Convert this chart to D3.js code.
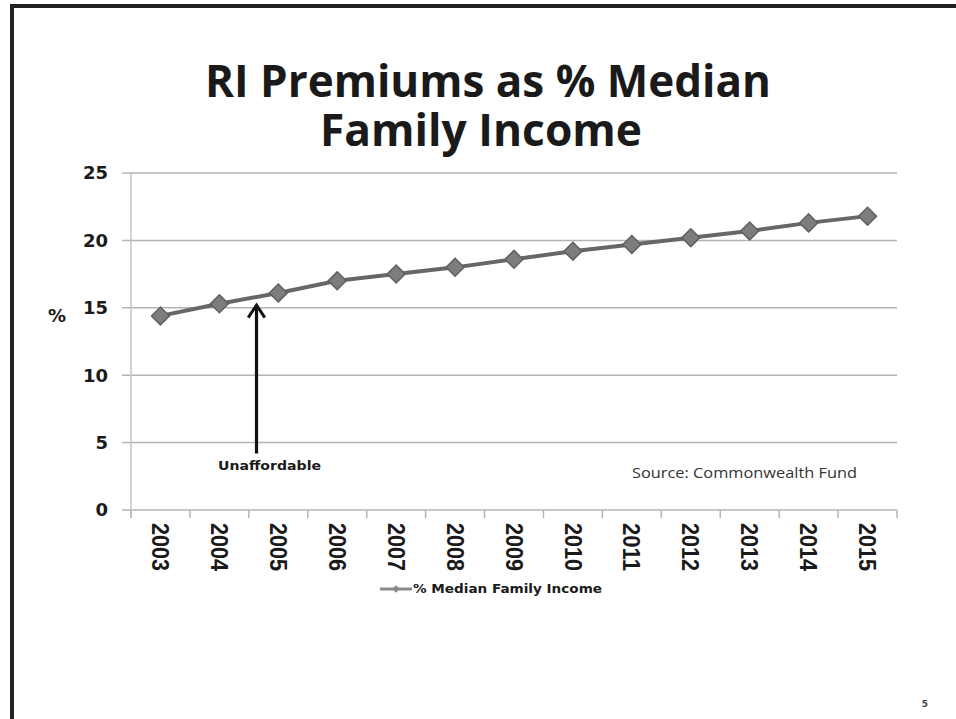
<!DOCTYPE html>
<meta charset="utf-8">
<style>
body { margin: 0; background: #fff; }
svg { display: block; }
.grid line { stroke: #b4b4b4; stroke-width: 1.5px; }
.ylab text { font-family: "DejaVu Sans", sans-serif; font-weight: bold; font-size: 18px; fill: #1a1a1a; }
.xlab text { font-family: "Liberation Sans", sans-serif; font-weight: bold; font-size: 24px; fill: #1a1a1a; }
</style>

<svg width="956" height="719"></svg>

<script src="https://d3js.org/d3.v7.min.js"></script>
<script>

var years = ["2003", "2004", "2005", "2006", "2007", "2008", "2009",
             "2010", "2011", "2012", "2013", "2014", "2015"];
var pctIncome = [14.4, 15.3, 16.1, 17.0, 17.5, 18.0, 18.6,
                 19.2, 19.7, 20.2, 20.7, 21.3, 21.8];
var yTicks = [0, 5, 10, 15, 20, 25];
var titleLines = ["RI Premiums as % Median", "Family Income"];
var seriesName = "% Median Family Income";
// arrow: position in years (between 2004 and 2005), from/to in % units
var arrowNote = { year: 2004.63, from: 4.2, to: 15.2, label: "Unaffordable" };

var svg = d3.select("svg"),
    width = +svg.attr("width"),
    height = +svg.attr("height");

var plotLeft = 131, plotRight = 897, plotTop = 173, plotBottom = 510;

var x = d3.scaleBand().domain(years).range([plotLeft, plotRight]).padding(0);
var y = d3.scaleLinear().domain([0, 25]).range([plotBottom, plotTop]);
var yearPos = d3.scaleLinear()
    .domain([+years[0], +years[years.length - 1]])
    .range([x(years[0]) + x.bandwidth() / 2, x(years[years.length - 1]) + x.bandwidth() / 2]);

// slide frame
svg.append("rect")
    .attr("x", 12).attr("y", 6)
    .attr("width", width + 20).attr("height", height + 20)
    .attr("fill", "none")
    .attr("stroke", "#222")
    .attr("stroke-width", 4);

// title
svg.append("g").selectAll("text")
  .data(titleLines)
  .enter().append("text")
    .attr("x", function(d, i) { return i == 0 ? 488 : 481; })
    .attr("y", function(d, i) { return 97 + i * 49; })
    .attr("text-anchor", "middle")
    .attr("textLength", function(d, i) { return i == 0 ? 566 : 322; })
    .attr("lengthAdjust", "spacingAndGlyphs")
    .style("font-family", "'Open Sans', sans-serif")
    .style("font-weight", "bold")
    .style("font-size", "44px")
    .style("fill", "#1a1a1a")
    .text(function(d) { return d; });

// horizontal gridlines
svg.append("g")
    .attr("class", "grid")
  .selectAll("line")
  .data(yTicks)
  .enter().append("line")
    .attr("x1", plotLeft - 9)
    .attr("x2", plotRight)
    .attr("y1", function(d) { return y(d); })
    .attr("y2", function(d) { return y(d); });

// y axis line
svg.append("line")
    .attr("x1", plotLeft).attr("x2", plotLeft)
    .attr("y1", plotTop).attr("y2", plotBottom + 8)
    .attr("stroke", "#c4c4c4")
    .attr("stroke-width", 1.5);

// x tick marks at category boundaries
var bounds = years.map(function(d) { return x(d); }).concat([plotRight]);
svg.append("g")
    .attr("class", "grid")
  .selectAll("line")
  .data(bounds)
  .enter().append("line")
    .attr("x1", function(d) { return d; })
    .attr("x2", function(d) { return d; })
    .attr("y1", plotBottom)
    .attr("y2", plotBottom + 8);

// y labels
svg.append("g")
    .attr("class", "ylab")
  .selectAll("text")
  .data(yTicks)
  .enter().append("text")
    .attr("x", 108)
    .attr("y", function(d) { return y(d); })
    .attr("dy", "0.36em")
    .attr("text-anchor", "end")
    .text(function(d) { return d; });

svg.append("text")
    .attr("x", 57)
    .attr("y", y(14.4))
    .attr("dy", "0.36em")
    .attr("text-anchor", "middle")
    .style("font-family", "'DejaVu Sans', sans-serif")
    .style("font-weight", "bold")
    .style("font-size", "18px")
    .style("fill", "#1a1a1a")
    .text("%");

// x labels, rotated
svg.append("g")
    .attr("class", "xlab")
  .selectAll("text")
  .data(years)
  .enter().append("text")
    .attr("transform", function(d) {
      return "translate(" + (x(d) + x.bandwidth() / 2) + "," + (plotBottom + 13) + ") rotate(90)";
    })
    .attr("dy", "0.35em")
    .attr("text-anchor", "start")
    .attr("textLength", 48)
    .attr("lengthAdjust", "spacingAndGlyphs")
    .text(function(d) { return d; });

// series line
var line = d3.line()
    .x(function(d, i) { return x(years[i]) + x.bandwidth() / 2; })
    .y(function(d) { return y(d); });

svg.append("path")
    .datum(pctIncome)
    .attr("d", line)
    .attr("fill", "none")
    .attr("stroke", "#676767")
    .attr("stroke-width", 4);

var diamond = d3.symbol().type(d3.symbolSquare).size(160);

svg.append("g").selectAll("path")
  .data(pctIncome)
  .enter().append("path")
    .attr("d", diamond)
    .attr("transform", function(d, i) {
      return "translate(" + (x(years[i]) + x.bandwidth() / 2) + "," + y(d) + ") rotate(45)";
    })
    .attr("fill", "#7d7d7d")
    .attr("stroke", "#606060")
    .attr("stroke-width", 1.5);

// annotation arrow
var ax = yearPos(arrowNote.year);
svg.append("defs").append("marker")
    .attr("id", "head")
    .attr("viewBox", "0 0 10 10")
    .attr("refX", 7).attr("refY", 5)
    .attr("markerWidth", 6.5).attr("markerHeight", 6.5)
    .attr("orient", "auto")
  .append("path")
    .attr("d", "M1,1 L7,5 L1,9")
    .attr("fill", "none")
    .attr("stroke", "#111")
    .attr("stroke-width", 1.4);

svg.append("line")
    .attr("x1", ax).attr("x2", ax)
    .attr("y1", y(arrowNote.from)).attr("y2", y(arrowNote.to))
    .attr("stroke", "#111")
    .attr("stroke-width", 3.2)
    .attr("marker-end", "url(#head)");

svg.append("text")
    .attr("x", 218)
    .attr("y", y(3.0))
    .attr("textLength", 103)
    .attr("lengthAdjust", "spacingAndGlyphs")
    .style("font-family", "'DejaVu Sans', sans-serif")
    .style("font-weight", "bold")
    .style("font-size", "12px")
    .style("fill", "#1a1a1a")
    .text(arrowNote.label);

// source note
svg.append("text")
    .attr("x", 632)
    .attr("y", y(2.4))
    .attr("textLength", 225)
    .attr("lengthAdjust", "spacingAndGlyphs")
    .style("font-family", "'Open Sans', sans-serif")
    .style("font-size", "15px")
    .style("fill", "#333")
    .text("Source: Commonwealth Fund");

// legend
var legend = svg.append("g").attr("transform", "translate(380,589)");
legend.append("line")
    .attr("x1", 0).attr("x2", 32)
    .attr("y1", 0).attr("y2", 0)
    .attr("stroke", "#8a8a8a")
    .attr("stroke-width", 3);
legend.append("path")
    .attr("d", d3.symbol().type(d3.symbolSquare).size(30))
    .attr("transform", "translate(16,0) rotate(45)")
    .attr("fill", "#8a8a8a");
legend.append("text")
    .attr("x", 33)
    .attr("y", 0)
    .attr("dy", "0.35em")
    .attr("textLength", 189)
    .attr("lengthAdjust", "spacingAndGlyphs")
    .style("font-family", "'DejaVu Sans', sans-serif")
    .style("font-weight", "bold")
    .style("font-size", "12px")
    .style("fill", "#1a1a1a")
    .text(seriesName);

// page number
svg.append("text")
    .attr("x", 925)
    .attr("y", 707)
    .attr("text-anchor", "middle")
    .style("font-family", "'DejaVu Sans', sans-serif")
    .style("font-weight", "bold")
    .style("font-size", "9px")
    .style("fill", "#444")
    .text("5");

</script>
